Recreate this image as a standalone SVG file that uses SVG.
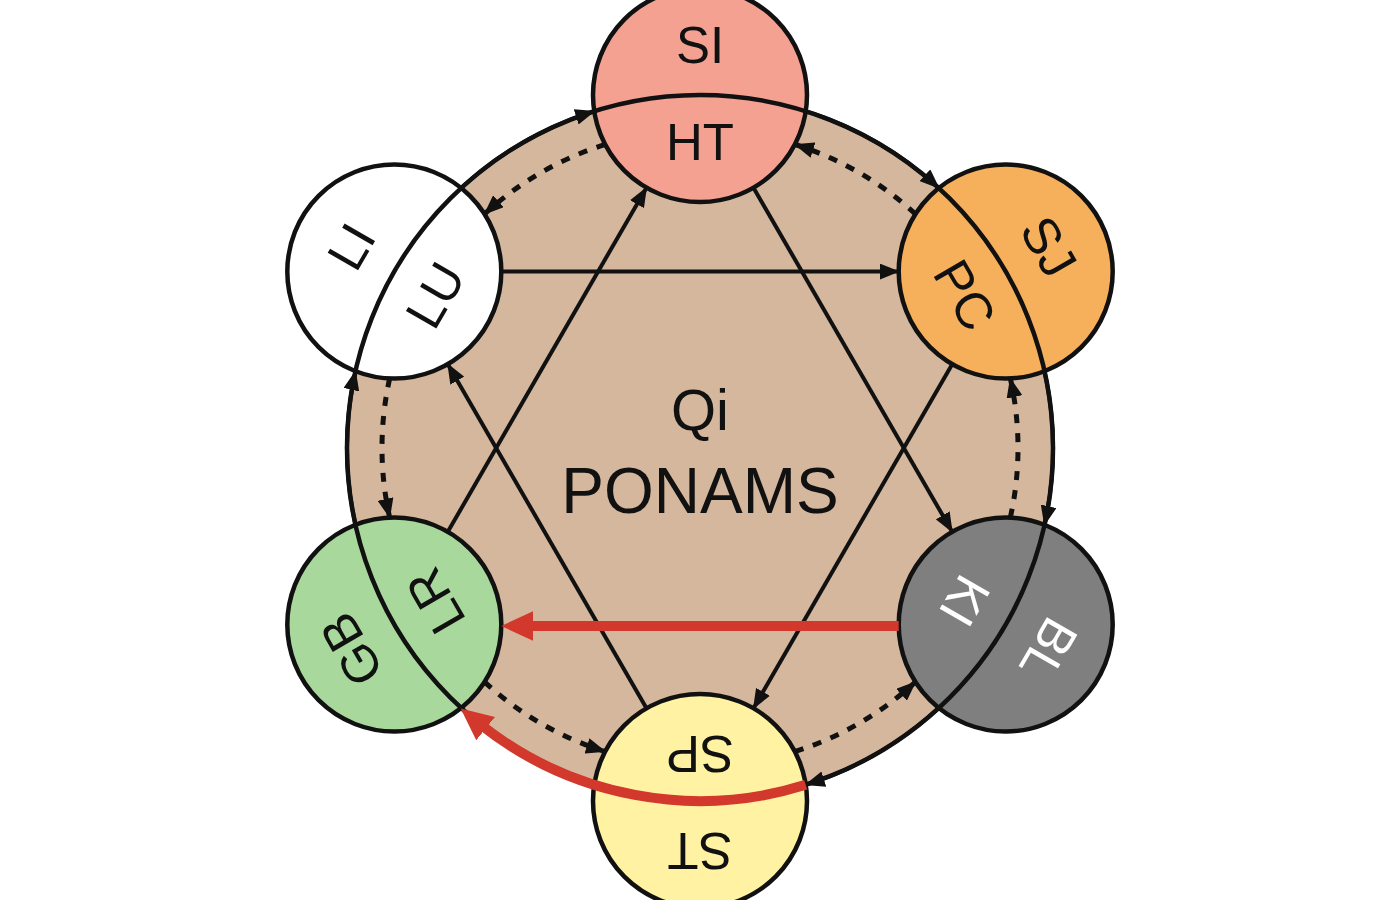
<svg xmlns="http://www.w3.org/2000/svg" width="1400" height="900" viewBox="0 0 1400 900">
  <defs>
    <marker id="ah" markerUnits="userSpaceOnUse" markerWidth="20" markerHeight="16" refX="19" refY="8" orient="auto">
      <path d="M0,0 L20,8 L0,16 z" fill="#111"/>
    </marker>
    <marker id="ahr" markerUnits="userSpaceOnUse" markerWidth="32" markerHeight="30" refX="8" refY="15" orient="auto">
      <path d="M0,0 L32,15 L0,30 z" fill="#D2382B"/>
    </marker>
    <style>
      .node { stroke: #111; stroke-width: 4.5; }
      .lbl { font-family: "Liberation Sans", Arial, sans-serif; font-size: 51px; text-anchor: middle; fill: #111; }
      .lblw { fill: #fff; }
      .ctr { font-family: "Liberation Sans", Arial, sans-serif; text-anchor: middle; fill: #111; }
      .solid { fill: none; stroke: #111; stroke-width: 4; marker-end: url(#ah); }
      .dash { fill: none; stroke: #111; stroke-width: 5; stroke-dasharray: 9 10; marker-end: url(#ah); }
      .red { fill: none; stroke: #D2382B; stroke-width: 10; marker-end: url(#ahr); }
    </style>
  </defs>
  <rect width="1400" height="900" fill="#fff"/>

  <g id="ring-fill">
    <circle cx="700" cy="448" r="353" fill="#D5B79E"/>
  </g>

  <g id="node-SI-HT">
    <circle class="node" cx="700" cy="95" r="107" fill="#F4A191"/>
    <g transform="translate(700,95)">
      <text class="lbl" x="0" y="-32">SI</text>
      <text class="lbl" x="0" y="65">HT</text>
    </g>
  </g>
  <g id="node-SJ-PC">
    <circle class="node" cx="1005.7" cy="271.5" r="107" fill="#F6B05C"/>
    <g transform="translate(1005.7,271.5) rotate(60)">
      <text class="lbl" x="0" y="-32">SJ</text>
      <text class="lbl" x="0" y="65">PC</text>
    </g>
  </g>
  <g id="node-BL-KI">
    <circle class="node" cx="1005.7" cy="624.5" r="107" fill="#7F7F7F"/>
    <g transform="translate(1005.7,624.5) rotate(120)">
      <text class="lbl lblw" x="0" y="-32">BL</text>
      <text class="lbl lblw" x="0" y="65">KI</text>
    </g>
  </g>
  <g id="node-ST-SP">
    <circle class="node" cx="700" cy="801" r="107" fill="#FFF3A3"/>
    <g transform="translate(700,801) rotate(180)">
      <text class="lbl" x="0" y="-32">ST</text>
      <text class="lbl" x="0" y="65">SP</text>
    </g>
  </g>
  <g id="node-GB-LR">
    <circle class="node" cx="394.3" cy="624.5" r="107" fill="#A8D89C"/>
    <g transform="translate(394.3,624.5) rotate(-120)">
      <text class="lbl" x="0" y="-32">GB</text>
      <text class="lbl" x="0" y="65">LR</text>
    </g>
  </g>
  <g id="node-LI-LU">
    <circle class="node" cx="394.3" cy="271.5" r="107" fill="#FFFFFF"/>
    <g transform="translate(394.3,271.5) rotate(-60)">
      <text class="lbl" x="0" y="-32">LI</text>
      <text class="lbl" x="0" y="65">LU</text>
    </g>
  </g>

  <g id="center-label">
    <text class="ctr" x="700" y="430" font-size="58">Qi</text>
    <text class="ctr" x="700" y="513" font-size="64">PONAMS</text>
  </g>

  <g id="connectors">
    <circle cx="700" cy="448" r="353" fill="none" stroke="#111" stroke-width="4.5"/>
    <!-- generating cycle arcs -->
    <path class="solid" d="M461.1,188.1 A353,353 0 0 1 594.3,111.2"/>
    <path class="solid" d="M805.7,111.2 A353,353 0 0 1 938.9,188.1"/>
    <path class="solid" d="M1044.5,371.2 A353,353 0 0 1 1044.5,524.8"/>
    <path class="solid" d="M938.9,707.9 A353,353 0 0 1 805.7,784.8"/>
    <path class="solid" d="M355.5,524.8 A353,353 0 0 1 355.5,371.2"/>
    <!-- dashed inner arcs -->
    <path class="dash" d="M794.9,751.5 A318,318 0 0 0 915.5,681.9"/>
    <path class="dash" d="M1010.3,517.6 A318,318 0 0 0 1010.3,378.4"/>
    <path class="dash" d="M915.5,214.1 A318,318 0 0 0 794.9,144.5"/>
    <path class="dash" d="M605.1,144.5 A318,318 0 0 0 484.5,214.1"/>
    <path class="dash" d="M389.7,378.4 A318,318 0 0 0 389.7,517.6"/>
    <path class="dash" d="M484.5,681.9 A318,318 0 0 0 605.1,751.5"/>
    <!-- straight lines -->
    <path class="solid" d="M501.3,271.5 L898.7,271.5"/>
    <path class="solid" d="M753.5,187.7 L952.2,531.8"/>
    <path class="solid" d="M646.5,708.3 L447.8,364.2"/>
    <path class="solid" d="M447.8,531.8 L646.5,187.7"/>
    <path class="solid" d="M952.2,364.2 L753.5,708.3"/>
    <!-- red connectors -->
    <path class="red" d="M898.7,626 L525.3,626"/>
    <path class="red" d="M805.7,784.8 A353,353 0 0 1 479.4,723.6"/>
  </g>
</svg>
